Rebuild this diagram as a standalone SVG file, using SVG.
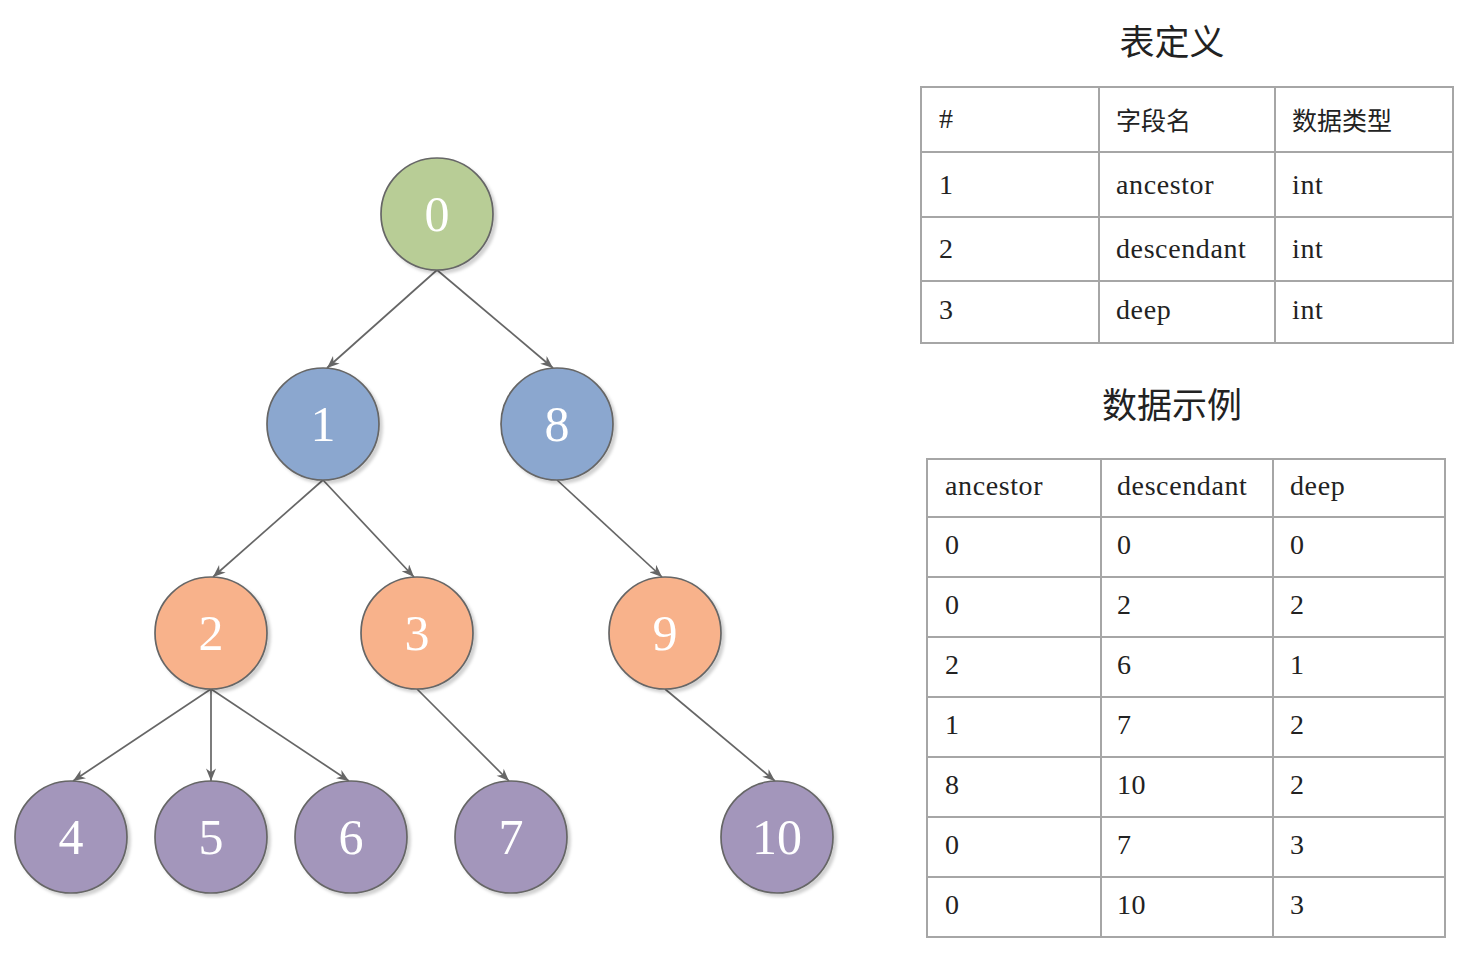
<svg xmlns="http://www.w3.org/2000/svg" width="1463" height="967" viewBox="0 0 1463 967">
<style>
.node circle{stroke:#666666;stroke-width:1.7;filter:url(#sh)}
.node text{font-family:"Liberation Serif",serif;font-size:50px;fill:#ffffff;text-anchor:middle}
.g circle{fill:#b8cd96}
.b circle{fill:#8ba7cf}
.o circle{fill:#f8b28b}
.p circle{fill:#a396bb}
.edges line{stroke:#666666;stroke-width:1.7;marker-end:url(#arr)}
.grid line{stroke:#a6a6a6;stroke-width:2}
.t{font-family:"Liberation Serif",serif;font-size:28px;fill:#222222;letter-spacing:0.6px}
.c{font-family:"Noto Sans CJK SC",sans-serif;font-size:25px;fill:#222222}
.title{font-family:"Noto Sans CJK SC",sans-serif;font-size:35px;fill:#222222;text-anchor:middle}
</style>
<defs>
<filter id="sh" x="-20%" y="-20%" width="150%" height="150%">
<feDropShadow dx="3" dy="3" stdDeviation="1.5" flood-color="#000000" flood-opacity="0.18"/>
</filter>
<marker id="arr" viewBox="0 0 10 8" refX="10" refY="4" markerWidth="13" markerHeight="10" markerUnits="userSpaceOnUse" orient="auto">
<path d="M0,0 L10,4 L0,8 L3,4 Z" fill="#666666"/>
</marker>
</defs>
<rect width="1463" height="967" fill="#ffffff"/>
<g class="edges">
<line x1="437" y1="270" x2="327" y2="368"/>
<line x1="437" y1="270" x2="553" y2="368"/>
<line x1="323" y1="480" x2="213" y2="577"/>
<line x1="323" y1="480" x2="414" y2="577"/>
<line x1="557" y1="480" x2="662" y2="577"/>
<line x1="211" y1="689" x2="73" y2="781"/>
<line x1="211" y1="689" x2="211" y2="781"/>
<line x1="211" y1="689" x2="349" y2="781"/>
<line x1="417" y1="689" x2="509" y2="781"/>
<line x1="665" y1="689" x2="775" y2="781"/>
</g>
<g id="n0" class="node g"><circle cx="437" cy="214" r="56"/><text x="437" y="231">0</text></g>
<g id="n1" class="node b"><circle cx="323" cy="424" r="56"/><text x="323" y="441">1</text></g>
<g id="n8" class="node b"><circle cx="557" cy="424" r="56"/><text x="557" y="441">8</text></g>
<g id="n2" class="node o"><circle cx="211" cy="633" r="56"/><text x="211" y="650">2</text></g>
<g id="n3" class="node o"><circle cx="417" cy="633" r="56"/><text x="417" y="650">3</text></g>
<g id="n9" class="node o"><circle cx="665" cy="633" r="56"/><text x="665" y="650">9</text></g>
<g id="n4" class="node p"><circle cx="71" cy="837" r="56"/><text x="71" y="854">4</text></g>
<g id="n5" class="node p"><circle cx="211" cy="837" r="56"/><text x="211" y="854">5</text></g>
<g id="n6" class="node p"><circle cx="351" cy="837" r="56"/><text x="351" y="854">6</text></g>
<g id="n7" class="node p"><circle cx="511" cy="837" r="56"/><text x="511" y="854">7</text></g>
<g id="n10" class="node p"><circle cx="777" cy="837" r="56"/><text x="777" y="854">10</text></g>
<g id="table1">
<text class="title" x="1172" y="55">表定义</text>
<g class="grid">
<line x1="920" y1="87" x2="1454" y2="87"/>
<line x1="920" y1="152" x2="1454" y2="152"/>
<line x1="920" y1="217" x2="1454" y2="217"/>
<line x1="920" y1="281" x2="1454" y2="281"/>
<line x1="920" y1="343" x2="1454" y2="343"/>
<line x1="921" y1="86" x2="921" y2="344"/>
<line x1="1099" y1="86" x2="1099" y2="344"/>
<line x1="1275" y1="86" x2="1275" y2="344"/>
<line x1="1453" y1="86" x2="1453" y2="344"/>
</g>
<text class="t" x="939" y="128">#</text>
<text class="c" x="1116" y="130">字段名</text>
<text class="c" x="1292" y="130">数据类型</text>
<text class="t" x="939" y="194">1</text>
<text class="t" x="1116" y="194">ancestor</text>
<text class="t" x="1292" y="194">int</text>
<text class="t" x="939" y="258">2</text>
<text class="t" x="1116" y="258">descendant</text>
<text class="t" x="1292" y="258">int</text>
<text class="t" x="939" y="319">3</text>
<text class="t" x="1116" y="319">deep</text>
<text class="t" x="1292" y="319">int</text>
</g>
<g id="table2">
<text class="title" x="1172" y="418">数据示例</text>
<g class="grid">
<line x1="926" y1="459" x2="1446" y2="459"/>
<line x1="926" y1="517" x2="1446" y2="517"/>
<line x1="926" y1="577" x2="1446" y2="577"/>
<line x1="926" y1="637" x2="1446" y2="637"/>
<line x1="926" y1="697" x2="1446" y2="697"/>
<line x1="926" y1="757" x2="1446" y2="757"/>
<line x1="926" y1="817" x2="1446" y2="817"/>
<line x1="926" y1="877" x2="1446" y2="877"/>
<line x1="926" y1="937" x2="1446" y2="937"/>
<line x1="927" y1="458" x2="927" y2="938"/>
<line x1="1101" y1="458" x2="1101" y2="938"/>
<line x1="1273" y1="458" x2="1273" y2="938"/>
<line x1="1445" y1="458" x2="1445" y2="938"/>
</g>
<text class="t" x="945" y="495">ancestor</text>
<text class="t" x="1117" y="495">descendant</text>
<text class="t" x="1290" y="495">deep</text>
<text class="t" x="945" y="554">0</text><text class="t" x="1117" y="554">0</text><text class="t" x="1290" y="554">0</text>
<text class="t" x="945" y="614">0</text><text class="t" x="1117" y="614">2</text><text class="t" x="1290" y="614">2</text>
<text class="t" x="945" y="674">2</text><text class="t" x="1117" y="674">6</text><text class="t" x="1290" y="674">1</text>
<text class="t" x="945" y="734">1</text><text class="t" x="1117" y="734">7</text><text class="t" x="1290" y="734">2</text>
<text class="t" x="945" y="794">8</text><text class="t" x="1117" y="794">10</text><text class="t" x="1290" y="794">2</text>
<text class="t" x="945" y="854">0</text><text class="t" x="1117" y="854">7</text><text class="t" x="1290" y="854">3</text>
<text class="t" x="945" y="914">0</text><text class="t" x="1117" y="914">10</text><text class="t" x="1290" y="914">3</text>
</g>
</svg>
